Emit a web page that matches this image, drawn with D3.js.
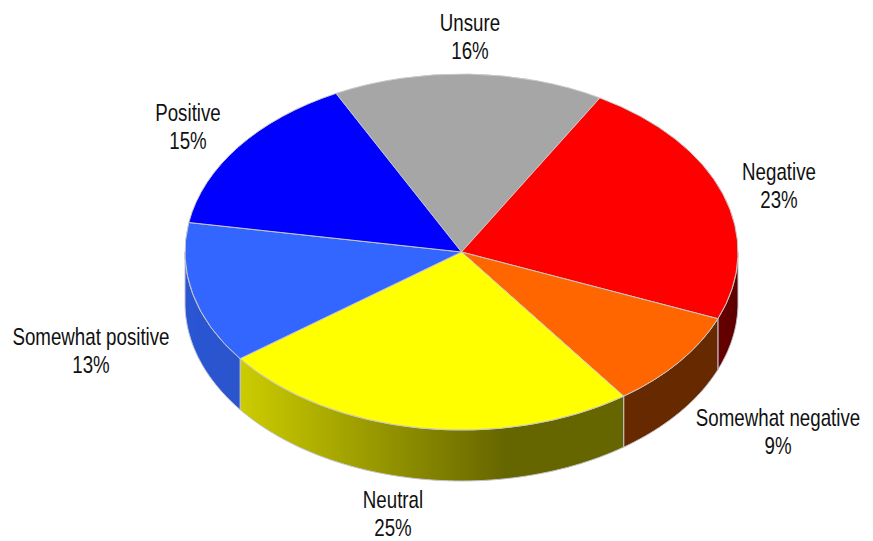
<!DOCTYPE html>
<html>
<head>
<meta charset="utf-8">
<script src="https://cdn.jsdelivr.net/npm/d3@7"></script>
<style>
    html, body { margin: 0; padding: 0; background: #fff; }
    text { font-family: "Liberation Sans", sans-serif; fill: #111; }
</style>
</head>
<body>
<div id="chart"></div>
<script>
// slices, clockwise from the grey one
var categories = ['Unsure', 'Negative', 'Somewhat negative', 'Neutral', 'Somewhat positive', 'Positive'];
var percents = [16, 23, 9, 25, 13, 15];
var percentLabels = ['16%', '23%', '9%', '25%', '13%', '15%'];

// chart layout, kept apart from the data
var width = 873, height = 541;
var cx = 461.5, cy = 252, rx = 276.5, ry = 178, depth = 51;
var startDeg = -27;
var topColors = ['#a6a6a6', '#ff0000', '#ff6600', '#ffff00', '#3366ff', '#0000ff'];
var labelCenters = [[470, 23], [779, 172], [778, 418], [393, 500], [91, 337], [188, 113]];
var lineGap = 28;
var narrow = 0.78; // no condensed face installed, so squeeze the text

var svg = d3.select('#chart').append('svg')
    .attr('width', width)
    .attr('height', height)
    .style('display', 'block');

var defs = svg.append('defs');

// yellow wall fades out towards the front, the rest barely change
function addGradient(id, from, to, x1, x2) {
    var g = defs.append('linearGradient')
        .attr('id', id)
        .attr('gradientUnits', 'userSpaceOnUse')
        .attr('x1', x1).attr('x2', x2)
        .attr('y1', 0).attr('y2', 0);
    g.append('stop').attr('offset', 0).attr('stop-color', from);
    g.append('stop').attr('offset', 1).attr('stop-color', to);
}
addGradient('wall-neutral', '#cccc00', '#666600', 240, 505);
addGradient('wall-sompos', '#2a55d4', '#2a55cc', 184, 240);
addGradient('wall-somneg', '#662900', '#662900', 624, 718);
addGradient('wall-neg', '#660000', '#5c0000', 718, 738);

var wallFills = {
    'Neutral': 'url(#wall-neutral)',
    'Somewhat positive': 'url(#wall-sompos)',
    'Somewhat negative': 'url(#wall-somneg)',
    'Negative': 'url(#wall-neg)'
};

var toRad = Math.PI / 180;
var pie = d3.pie().sort(null).value(function (d) { return d.value; })
    .startAngle(startDeg * toRad)
    .endAngle((startDeg + 360) * toRad);

var slices = pie(categories.map(function (c, i) {
    return { name: c, value: percents[i], label: percentLabels[i], color: topColors[i], center: labelCenters[i] };
}));

// the wall is only seen on the front half of the ellipse
var wallArea = d3.area()
    .x(function (a) { return cx + rx * Math.sin(a); })
    .y0(function (a) { return cy - ry * Math.cos(a); })
    .y1(function (a) { return cy - ry * Math.cos(a) + depth; });

function wallPath(d) {
    var from = Math.max(d.startAngle, 90 * toRad),
        to = Math.min(d.endAngle, 270 * toRad);
    if (to <= from) { return null; }
    return wallArea(d3.range(0, 61).map(function (i) { return from + (to - from) * i / 60; }));
}

svg.append('g').attr('class', 'walls')
    .selectAll('path')
    .data(slices.filter(function (d) { return wallPath(d) !== null; }))
    .enter().append('path')
    .attr('d', wallPath)
    .attr('fill', function (d) { return wallFills[d.data.name]; })
    .attr('stroke', '#c4c4d0')
    .attr('stroke-width', 1);

var arc = d3.arc().innerRadius(0).outerRadius(rx);

svg.append('g').attr('class', 'tops')
    .attr('transform', 'translate(' + cx + ',' + cy + ') scale(1,' + (ry / rx) + ')')
    .selectAll('path')
    .data(slices)
    .enter().append('path')
    .attr('d', arc)
    .attr('fill', function (d) { return d.data.color; })
    .attr('stroke', '#c8c8c8')
    .attr('stroke-width', 1)
    .attr('vector-effect', 'non-scaling-stroke');

var labels = svg.append('g').attr('class', 'labels')
    .selectAll('g')
    .data(slices)
    .enter().append('g')
    .attr('transform', function (d) {
        return 'translate(' + d.data.center[0] + ',' + (d.data.center[1] + 8) + ') scale(' + narrow + ',1)';
    });

labels.append('text')
    .attr('text-anchor', 'middle')
    .attr('font-size', 24)
    .text(function (d) { return d.data.name; });

labels.append('text')
    .attr('text-anchor', 'middle')
    .attr('font-size', 24)
    .attr('y', lineGap)
    .text(function (d) { return d.data.label; });
</script>
</body>
</html>
